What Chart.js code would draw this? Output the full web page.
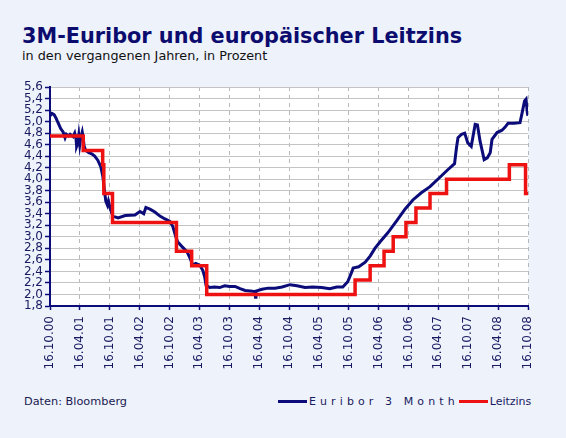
<!DOCTYPE html>
<html>
<head>
<meta charset="utf-8">
<script src="https://cdn.jsdelivr.net/npm/chart.js@4.4.0/dist/chart.umd.min.js"></script>
<style>
    body { margin: 0; background: #edf2fb; font-family: "DejaVu Sans", Verdana, sans-serif; }
    #rahmen { position: relative; width: 566px; height: 438px; overflow: hidden; }
    #titel { position: absolute; left: 22px; top: 26px; font-size: 20.8px; line-height: 20px; font-weight: bold; color: #0c0c6e; white-space: nowrap; }
    #untertitel { position: absolute; left: 22px; top: 50px; font-size: 12.8px; line-height: 12px; color: #111; white-space: nowrap; }
    #diagramm { position: absolute; left: 0; top: 78px; width: 566px; height: 300px; }
    #quelle { position: absolute; left: 24px; top: 395px; font-size: 11.3px; line-height: 13px; color: #1a1a50; }
    #legende { position: absolute; left: 278px; top: 395px; height: 13px; display: flex; align-items: center; font-size: 11px; color: #1a1a60; white-space: nowrap; }
    #legende .linie { display: inline-block; width: 29px; height: 3px; }
</style>
</head>
<body>
<div id="rahmen">
    <div id="titel">3M-Euribor und europäischer Leitzins</div>
    <div id="untertitel">in den vergangenen Jahren, in Prozent</div>
    <div id="diagramm"><canvas id="zinsChart"></canvas></div>
    <div id="quelle">Daten: Bloomberg</div>
    <div id="legende"></div>
</div>
<script>
    // Euribor 3 Monate
    var euriborDaten = ['2000-10-16', '2000-10-28', '2000-11-10', '2000-11-22', '2000-12-04', '2000-12-20',
        '2001-01-04', '2001-01-16', '2001-01-24', '2001-02-06', '2001-02-16', '2001-03-06', '2001-03-16',
        '2001-03-24', '2001-03-28', '2001-04-04', '2001-04-10', '2001-04-16', '2001-04-22', '2001-05-01',
        '2001-05-08', '2001-05-12', '2001-05-22', '2001-06-10', '2001-06-28', '2001-07-16', '2001-08-04',
        '2001-08-22', '2001-09-04', '2001-09-12', '2001-09-22', '2001-10-02', '2001-10-08', '2001-10-20',
        '2001-11-04', '2001-12-06', '2002-01-19', '2002-03-19', '2002-04-19', '2002-05-12', '2002-05-25',
        '2002-06-19', '2002-07-19', '2002-08-19', '2002-09-19', '2002-10-19', '2002-11-06', '2002-11-24',
        '2002-12-06', '2003-01-01', '2003-02-01', '2003-02-19', '2003-03-08', '2003-03-26', '2003-04-19',
        '2003-05-08', '2003-05-20', '2003-05-28', '2003-06-19', '2003-07-19', '2003-08-19', '2003-09-19',
        '2003-10-19', '2003-11-21', '2003-12-22', '2004-01-22', '2004-02-22', '2004-03-22', '2004-03-25',
        '2004-03-28', '2004-05-04', '2004-06-10', '2004-07-22', '2004-09-04', '2004-10-22', '2004-12-04',
        '2005-01-22', '2005-03-10', '2005-05-04', '2005-06-22', '2005-08-04', '2005-09-10', '2005-10-10',
        '2005-11-05', '2005-11-12', '2005-12-16', '2006-01-25', '2006-02-25', '2006-03-25', '2006-04-25',
        '2006-06-12', '2006-08-06', '2006-09-25', '2006-11-12', '2007-01-01', '2007-02-25', '2007-04-25',
        '2007-06-12', '2007-07-25', '2007-08-06', '2007-08-15', '2007-09-06', '2007-09-25', '2007-10-14',
        '2007-11-04', '2007-11-28', '2007-12-12', '2007-12-28', '2008-01-22', '2008-02-10', '2008-02-28',
        '2008-03-10', '2008-04-10', '2008-05-10', '2008-05-28', '2008-06-16', '2008-07-22', '2008-08-28',
        '2008-09-10', '2008-09-25', '2008-10-04', '2008-10-12', '2008-10-16'];
    var euriborWerte = [5.10, 5.14, 5.12, 5.06, 4.98, 4.88,
        4.82, 4.72, 4.78, 4.75, 4.78, 4.74, 4.80,
        4.70, 4.57, 4.62, 4.76, 4.60, 4.72, 4.82,
        4.70, 4.58, 4.50, 4.46, 4.44, 4.40, 4.33,
        4.22, 4.05, 3.85, 3.62, 3.55, 3.62, 3.48,
        3.36, 3.33, 3.37, 3.38, 3.44, 3.40, 3.51,
        3.48, 3.43, 3.36, 3.31, 3.27, 3.18, 3.00,
        2.91, 2.83, 2.74, 2.63, 2.51, 2.54, 2.51,
        2.42, 2.30, 2.16, 2.12, 2.13, 2.12, 2.15,
        2.14, 2.14, 2.10, 2.07, 2.06, 2.05, 1.95,
        2.06, 2.09, 2.11, 2.11, 2.13, 2.17, 2.15,
        2.12, 2.13, 2.12, 2.10, 2.13, 2.13, 2.22,
        2.40, 2.46, 2.48, 2.56, 2.67, 2.80, 2.91,
        3.07, 3.28, 3.48, 3.64, 3.76, 3.87, 4.03,
        4.16, 4.27, 4.55, 4.72, 4.78, 4.80, 4.63,
        4.57, 4.95, 4.94, 4.66, 4.34, 4.37, 4.46,
        4.69, 4.81, 4.85, 4.90, 4.97, 4.97, 4.98,
        5.15, 5.36, 5.39, 5.15, 5.10];

    // Leitzins (jeweils ab Datum)
    var leitzinsDaten = ['2000-10-16', '2001-05-07', '2001-09-03', '2001-09-10', '2001-11-02', '2002-11-28',
        '2003-03-01', '2003-06-01', '2005-11-24', '2006-02-24', '2006-05-20', '2006-07-15', '2006-10-01',
        '2006-12-01', '2007-02-25', '2007-06-06', '2008-06-24', '2008-10-01', '2008-10-16'];
    var leitzinsWerte = [4.75, 4.50, 4.25, 3.75, 3.25, 2.75,
        2.50, 2.00, 2.25, 2.50, 2.75, 3.00, 3.25,
        3.50, 3.75, 4.00, 4.25, 3.75, 3.75];

    var achsenDaten = ['2000-10-16', '2001-04-16', '2001-10-16', '2002-04-16', '2002-10-16', '2003-04-16',
        '2003-10-16', '2004-04-16', '2004-10-16', '2005-04-16', '2005-10-16', '2006-04-16', '2006-10-16',
        '2007-04-16', '2007-10-16', '2008-04-16', '2008-10-16'];
    var achsenBeschriftung = ['16.10.00', '16.04.01', '16.10.01', '16.04.02', '16.10.02', '16.04.03',
        '16.10.03', '16.04.04', '16.10.04', '16.04.05', '16.10.05', '16.04.06', '16.10.06',
        '16.04.07', '16.10.07', '16.04.08', '16.10.08'];

    var NAVY = '#0b0b7a';
    var ROT = '#ee1111';

    var tage = function (s) {
        var p = s.split('-');
        return (Date.UTC(+p[0], +p[1] - 1, +p[2]) - Date.UTC(2000, 9, 16)) / 86400000;
    };
    var punkte = function (daten, werte) {
        return daten.map(function (d, i) { return { x: tage(d), y: werte[i] }; });
    };
    var achsenTage = achsenDaten.map(tage);

    // weisser Hintergrund nur im Diagrammbereich
    var plotHintergrund = {
        id: 'plotHintergrund',
        beforeDraw: function (c) {
            var a = c.chartArea;
            c.ctx.save();
            c.ctx.fillStyle = '#ffffff';
            c.ctx.fillRect(a.left, a.top, a.right - a.left, a.bottom - a.top);
            c.ctx.restore();
        }
    };

    var chart = new Chart(document.getElementById('zinsChart'), {
        type: 'line',
        data: {
            datasets: [{
                label: 'Euribor 3 Month',
                data: punkte(euriborDaten, euriborWerte),
                borderColor: NAVY,
                borderWidth: 3,
                pointRadius: 0,
                order: 2
            }, {
                label: 'Leitzins',
                data: punkte(leitzinsDaten, leitzinsWerte),
                borderColor: ROT,
                borderWidth: 3.5,
                pointRadius: 0,
                stepped: true,
                order: 1
            }]
        },
        plugins: [plotHintergrund],
        options: {
            responsive: true,
            maintainAspectRatio: false,
            animation: false,
            layout: { padding: { left: 0, right: 38, top: 9, bottom: 0 } },
            plugins: { legend: { display: false }, tooltip: { enabled: false } },
            scales: {
                x: {
                    type: 'linear',
                    min: achsenTage[0],
                    max: achsenTage[achsenTage.length - 1],
                    afterBuildTicks: function (scale) {
                        scale.ticks = achsenTage.map(function (t) { return { value: t }; });
                    },
                    afterFit: function (scale) { scale.height = 72; },
                    grid: { color: '#b8b8b8', lineWidth: 1, tickLength: 4, tickColor: NAVY, tickWidth: 1.5 },
                    border: { color: NAVY, width: 2, dash: [4, 4] },
                    ticks: {
                        autoSkip: false,
                        minRotation: 90,
                        maxRotation: 90,
                        padding: 6,
                        color: '#1a1a60',
                        font: { family: '"DejaVu Sans", Verdana, sans-serif', size: 12 },
                        callback: function (v, i) { return achsenBeschriftung[i]; }
                    }
                },
                y: {
                    min: 1.8,
                    max: 5.6,
                    afterFit: function (scale) { scale.width = 50; },
                    grid: { color: '#c4c4c4', lineWidth: 1, tickLength: 5, tickColor: NAVY, tickWidth: 1.5 },
                    border: { color: NAVY, width: 2 },
                    ticks: {
                        autoSkip: false,
                        stepSize: 0.2,
                        padding: 2,
                        color: '#1a1a60',
                        font: { family: '"DejaVu Sans", Verdana, sans-serif', size: 12, lineHeight: 1 },
                        callback: function (v) { return v.toFixed(1).replace('.', ','); }
                    }
                }
            }
        }
    });

    // Legende aus den Datensaetzen
    var html = '';
    chart.data.datasets.forEach(function (ds) {
        var abstand = ds.label === 'Leitzins' ? '0' : '4.1px';
        html += '<span class="linie" style="background:' + ds.borderColor + '"></span>' +
            '<span style="letter-spacing:' + abstand + ';margin-left:2px">' + ds.label + '</span>';
    });
    document.getElementById('legende').innerHTML = html;
</script>
</body>
</html>
